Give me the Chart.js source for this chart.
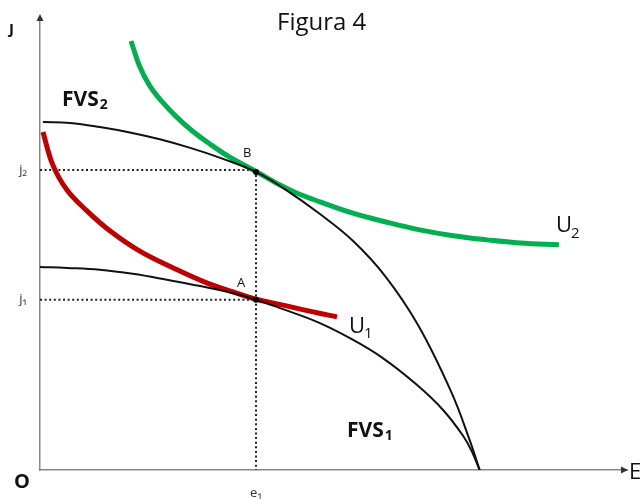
<!DOCTYPE html>
<html>
<head>
<meta charset="utf-8">
<title>Figura 4</title>
<script src="https://cdn.jsdelivr.net/npm/chart.js@4"></script>
<style>
  body { margin: 0; background: #fff; }
  canvas { display: block; }
</style>
</head>
<body>
<canvas id="chart" width="641" height="499"></canvas>
<script>
// values (E on x, J on y, both 0..100)
const fvs2E = [0.5, 5.1, 10.2, 15.3, 20.4, 25.6, 30.7, 36.8, 41.7, 47.7, 53.3, 58.8, 64.4, 70.0, 73.2, 74.9];
const fvs2J = [76.8, 76.6, 75.7, 74.5, 73.0, 71.1, 68.9, 65.8, 62.0, 56.5, 50.6, 42.8, 32.0, 17.4, 6.6, 0];
const fvs1E = [0, 4.6, 10.2, 15.8, 21.6, 27.3, 32.9, 36.8, 41.4, 47.2, 52.8, 58.4, 64.2, 68.7, 72.1, 73.6, 74.9];
const fvs1J = [44.8, 44.6, 44.2, 43.3, 42.0, 40.6, 39.0, 37.6, 35.5, 32.7, 29.1, 24.7, 18.8, 13.2, 7.5, 4.0, 0];
const u2E = [15.5, 17.0, 18.7, 20.8, 23.2, 25.9, 29.0, 32.4, 36.8, 40.9, 43.8, 47.7, 53.3, 59.1, 64.7, 70.4, 76.1, 81.8, 88.4];
const u2J = [94.7, 89.0, 84.8, 81.3, 78.0, 74.9, 71.9, 69.0, 65.9, 62.9, 61.1, 59.2, 56.7, 54.7, 53.0, 51.7, 50.8, 50.1, 49.7];
const u1E = [0.5, 2.2, 4.6, 8.0, 11.9, 17.0, 22.7, 28.4, 32.9, 36.8, 41.4, 47.2, 50.6];
const u1J = [74.6, 67.3, 61.8, 57.2, 52.8, 48.3, 44.6, 41.3, 39.3, 37.7, 36.4, 34.7, 33.8];

const e1 = 36.8;
const j1 = 37.6;
const j2 = 66.2;
const pointE = [36.8, 36.8];   // B, A
const pointJ = [65.8, 37.6];
const yTickValues = [j1, j2];
const yTickLabels = ['j\u2081', 'j\u2082'];
const xTickValues = [e1];
const xTickLabels = ['e\u2081'];

function toPoints(xs, ys) {
    return xs.map((x, i) => ({ x: x, y: ys[i] }));
}

function curve(data, color, width, order) {
    return {
        data: data,
        borderColor: color,
        borderWidth: width,
        pointRadius: 0,
        tension: 0.4,
        fill: false,
        order: order
    };
}

function dotted(data) {
    return {
        data: data,
        borderColor: '#222',
        borderWidth: 2,
        borderDash: [2, 2.6],
        pointRadius: 0,
        tension: 0,
        fill: false,
        order: 4
    };
}

// text with a subscript
function subText(ctx, x, y, main, sub, size, weight, subSize, drop, gap) {
    ctx.font = weight + ' ' + size + 'px "Open Sans", sans-serif';
    ctx.fillText(main, x, y);
    const w = ctx.measureText(main).width;
    if (sub) {
        ctx.font = weight + ' ' + subSize + 'px "Open Sans", sans-serif';
        ctx.fillText(sub, x + w + gap, y + drop);
    }
}

const labelsPlugin = {
    id: 'labels',
    afterDraw(chart) {
        const ctx = chart.ctx;
        const area = chart.chartArea;
        ctx.save();

        // axis arrows
        ctx.fillStyle = '#333';
        ctx.beginPath();
        ctx.moveTo(area.right + 1, area.bottom);
        ctx.lineTo(area.right - 6, area.bottom - 3.5);
        ctx.lineTo(area.right - 6, area.bottom + 3.5);
        ctx.closePath();
        ctx.fill();
        ctx.beginPath();
        ctx.moveTo(area.left, area.top - 3);
        ctx.lineTo(area.left - 3.5, area.top + 4);
        ctx.lineTo(area.left + 3.5, area.top + 4);
        ctx.closePath();
        ctx.fill();

        ctx.textAlign = 'left';
        ctx.textBaseline = 'alphabetic';
        ctx.fillStyle = '#111';

        ctx.font = '24px "Open Sans", sans-serif';
        ctx.fillText('Figura 4', 277, 30);

        subText(ctx, 9, 34, 'J', '', 15, 'bold', 0, 0, 0);
        subText(ctx, 14, 488, 'O', '', 20, 'bold', 0, 0, 0);
        subText(ctx, 629, 479, 'E', '', 22, 'normal', 0, 0, 0);

        subText(ctx, 62, 106, 'FVS', '2', 21, 'bold', 14, 3, 1);
        subText(ctx, 347, 437, 'FVS', '1', 21, 'bold', 14, 3, 1);
        subText(ctx, 556, 232, 'U', '2', 22, 'normal', 15, 6, -1);
        subText(ctx, 349, 333, 'U', '1', 22, 'normal', 15, 5, -1);

        subText(ctx, 243, 157, 'B', '', 13, 'normal', 0, 0, 0);
        subText(ctx, 237, 287, 'A', '', 13, 'normal', 0, 0, 0);

        ctx.restore();
    }
};

const ctx = document.getElementById('chart').getContext('2d');
new Chart(ctx, {
    type: 'line',
    data: {
        datasets: [
            curve(toPoints(fvs2E, fvs2J), '#111', 2, 1),
            curve(toPoints(fvs1E, fvs1J), '#111', 2, 1),
            curve(toPoints(u2E, u2J), '#00b050', 5, 2),
            curve(toPoints(u1E, u1J), '#c00000', 5, 2),
            dotted([{ x: 0, y: j2 }, { x: e1, y: j2 }, { x: e1, y: 0 }]),
            dotted([{ x: 0, y: j1 }, { x: e1, y: j1 }]),
            {
                data: toPoints(pointE, pointJ),
                showLine: false,
                pointRadius: 3,
                pointBackgroundColor: '#000',
                pointBorderWidth: 0,
                order: 0
            }
        ]
    },
    options: {
        responsive: false,
        animation: false,
        layout: { padding: { top: 17, right: 14, left: 0, bottom: 0 } },
        plugins: {
            legend: { display: false },
            tooltip: { enabled: false },
            title: { display: false }
        },
        scales: {
            x: {
                type: 'linear',
                min: 0,
                max: 100,
                grid: { display: false, drawTicks: false },
                border: { color: '#888', width: 1.5 },
                afterBuildTicks(scale) {
                    scale.ticks = xTickValues.map(v => ({ value: v }));
                },
                afterFit(scale) {
                    scale.height = 29;
                    scale.paddingLeft = 0;
                    scale.paddingRight = 0;
                },
                ticks: {
                    autoSkip: false,
                    padding: 15,
                    color: '#333',
                    font: { family: '"Open Sans", sans-serif', size: 13 },
                    callback: (v) => xTickLabels[xTickValues.indexOf(v)]
                }
            },
            y: {
                type: 'linear',
                min: 0,
                max: 100,
                grid: { display: false, drawTicks: false },
                border: { color: '#888', width: 1.5 },
                afterBuildTicks(scale) {
                    scale.ticks = yTickValues.map(v => ({ value: v }));
                },
                afterFit(scale) {
                    scale.width = 40;
                    scale.paddingTop = 0;
                    scale.paddingBottom = 0;
                },
                ticks: {
                    autoSkip: false,
                    padding: 13,
                    color: '#333',
                    font: { family: '"Open Sans", sans-serif', size: 13 },
                    callback: (v) => yTickLabels[yTickValues.indexOf(v)]
                }
            }
        }
    },
    plugins: [labelsPlugin]
});
</script>
</body>
</html>
